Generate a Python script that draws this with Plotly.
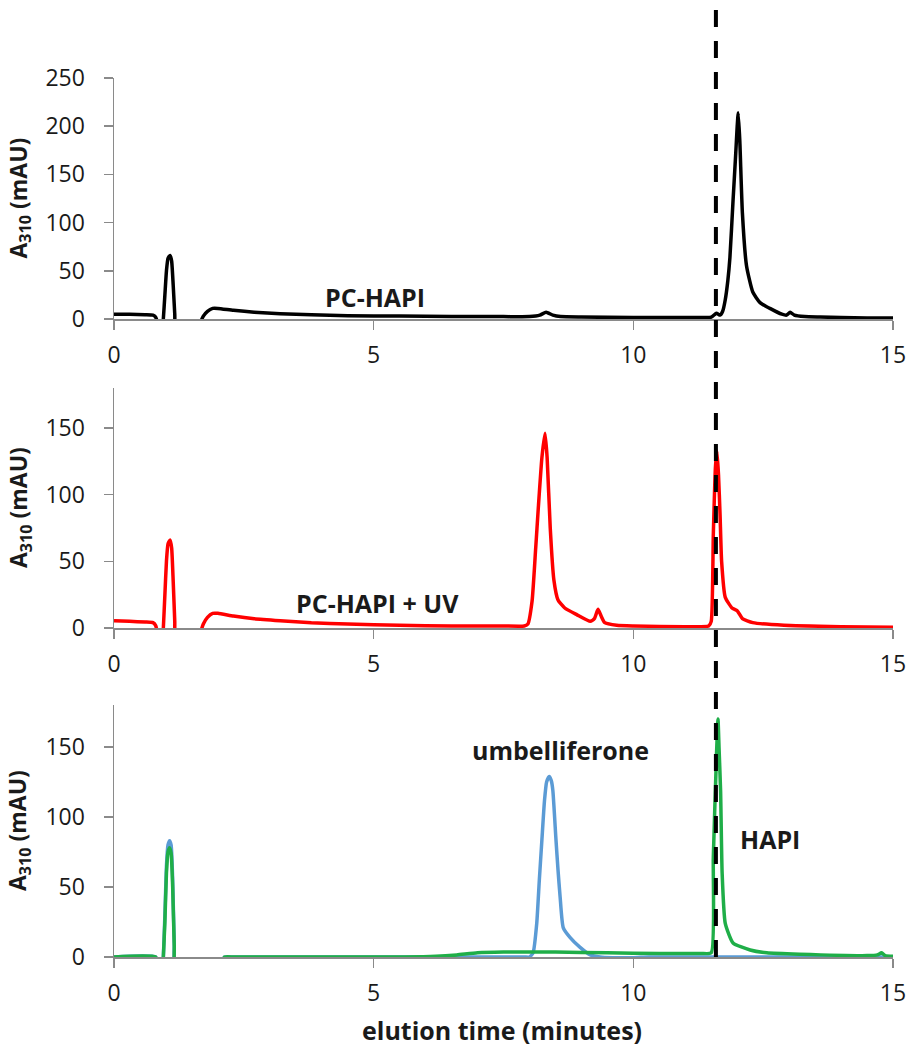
import plotly.graph_objects as go

# ---------------- data ----------------
t_pc = [0, 0.3, 0.6, 0.75, 0.8, 0.84, 0.87, 0.92, 0.95, 0.98, 1.01, 1.04, 1.08, 1.11, 1.14, 1.17, 1.2,
        1.6, 1.66, 1.72, 1.8, 1.9, 2.0, 2.3, 2.7, 3.2, 3.8, 4.5, 5.5, 6.5, 7.5, 8.0, 8.2, 8.32, 8.45,
        8.6, 9.0, 10.0, 11.0, 11.5, 11.6, 11.67, 11.72, 11.77, 11.82, 11.86, 11.92, 11.97, 12.0, 12.02,
        12.05, 12.1, 12.18, 12.3, 12.44, 12.63, 12.86, 12.95, 13.02, 13.1, 13.3, 13.6, 14.0, 14.5, 15.0]
a_pc = [5, 5, 4.5, 4, 2, -5, -20, -20, 0, 25, 50, 63, 66, 60, 35, 5, -20,
        -20, -5, 3, 8, 11, 11, 9, 7, 5.5, 4.5, 3.5, 3, 2.5, 2.5, 2.5, 4, 7, 4,
        2.5, 2, 1.5, 1.5, 2, 6, 4, 8, 20, 40, 64, 123, 170, 200, 214,
        185, 110, 55, 28, 17, 11, 5, 4, 7, 4, 2.5, 2, 1.5, 1, 1]

t_uv = [0, 0.3, 0.6, 0.75, 0.8, 0.84, 0.87, 0.92, 0.95, 0.98, 1.01, 1.04, 1.08, 1.11, 1.14, 1.17, 1.2,
        1.6, 1.66, 1.72, 1.8, 1.9, 2.0, 2.3, 2.7, 3.2, 3.8, 4.5, 5.5, 6.5, 7.0, 7.5, 7.9, 7.97, 8.05,
        8.12, 8.17, 8.24, 8.3, 8.34, 8.4, 8.47, 8.55, 8.68, 8.91, 9.17, 9.25, 9.32, 9.38, 9.45, 9.68,
        10.0, 11.0, 11.45, 11.5, 11.54, 11.58, 11.61, 11.64, 11.67, 11.7, 11.77, 11.9, 12.0, 12.1,
        12.3, 12.9, 14.0, 15.0]
a_uv = [5.5, 5, 4.5, 4, 2, -5, -20, -20, 0, 25, 50, 63, 66, 60, 35, 5, -20,
        -20, -5, 3, 8, 11, 11, 9, 7, 5.5, 4, 3, 2, 1.5, 1.5, 1.5, 1.5, 3, 20,
        60, 90, 128, 146, 128, 75, 36, 21, 15, 10, 5, 7, 14, 9, 4, 2,
        1.5, 1, 1.5, 5, 70, 120, 133, 115, 85, 50, 23, 15, 13, 7,
        4, 2, 1, 0.5]

t_umb = [0, 0.8, 0.84, 0.87, 0.92, 0.95, 0.98, 1.01, 1.04, 1.07, 1.1, 1.13, 1.16, 1.2, 2.0, 2.08,
         2.13, 2.3, 3.0, 4.0, 5.0, 6.0, 7.0, 7.9, 8.0, 8.07, 8.14, 8.19, 8.24, 8.29, 8.33, 8.38, 8.42,
         8.45, 8.51, 8.55, 8.59, 8.65, 8.78, 8.97, 9.17, 9.36, 9.6, 10.0, 10.3, 11.0, 12.0, 13.0,
         14.0, 15.0]
a_umb = [0, 0, -5, -20, -20, 0, 30, 65, 80, 83, 80, 55, 10, -20, -20, -4,
         0, 0, 0, 0, 0, 0, 0, 0, 0, 3, 24, 55, 84, 112, 125, 129, 126,
         119, 84, 62, 43, 21, 14, 7, 1.5, 0, -0.5, -0.5, 0, 0, 0, 0,
         0, 0]

t_hapi = [0, 0.8, 0.84, 0.87, 0.92, 0.95, 0.98, 1.01, 1.04, 1.07, 1.1, 1.13, 1.16, 1.2, 2.0, 2.08,
          2.13, 2.3, 3.0, 4.0, 5.0, 5.6, 6.2, 6.6, 7.0, 7.5, 8.5, 9.5, 10.5, 11.3, 11.5, 11.54, 11.6,
          11.63, 11.65, 11.68, 11.71, 11.77, 11.92, 12.25, 12.57, 13.2, 14.5, 14.7, 14.78, 14.85, 15.0]
a_hapi = [0, 0, -5, -20, -20, 0, 25, 60, 75, 78, 74, 50, 8, -20, -20, -4,
          0, 0, 0, 0, 0, 0, 0.5, 1.5, 3, 3.5, 3.5, 3, 2.5, 2.5, 3, 71, 143,
          170, 150, 119, 60, 24, 10, 5, 3, 2, 1, 1.5, 3, 1, 0.5]

x_ticks = [0, 5, 10, 15]
y_ticks_top = [0, 50, 100, 150, 200, 250]
y_ticks_low = [0, 50, 100, 150]
hapi_time = 11.59

# ---------------- figure geometry (body margin removed in post_script) ----------------
W, H = 909, 1050
ML = 114
MR = W - 893
PW = W - ML - MR

def py(y_ref):
    return 1 - y_ref / H

def px(x_ref):
    return (x_ref - ML) / PW

def dom(top_px, bot_px):
    return [py(bot_px), py(top_px)]

AX_COL = "#8a8a8a"
FONT = "Open Sans"
TICKFONT = dict(family=FONT, size=23, color="#1a1a1a")
spline = dict(shape="spline", smoothing=0.5)

fig = go.Figure()
fig.add_trace(go.Scatter(x=t_pc, y=a_pc, mode="lines", line=dict(color="#000000", width=3.5, **spline),
                         xaxis="x", yaxis="y", showlegend=False))
fig.add_trace(go.Scatter(x=t_uv, y=a_uv, mode="lines", line=dict(color="#ff0000", width=3.5, **spline),
                         xaxis="x2", yaxis="y2", showlegend=False))
fig.add_trace(go.Scatter(x=t_umb, y=a_umb, mode="lines", line=dict(color="#5b9bd5", width=3.5, **spline),
                         xaxis="x3", yaxis="y3", showlegend=False))
fig.add_trace(go.Scatter(x=t_hapi, y=a_hapi, mode="lines", line=dict(color="#1fae48", width=3.5, **spline),
                         xaxis="x3", yaxis="y3", showlegend=False))

xcommon = dict(range=[0, 15], tickvals=x_ticks, ticks="outside", ticklen=9, tickwidth=1.5,
               tickcolor=AX_COL, showline=True, linecolor=AX_COL, linewidth=1.5, showgrid=False,
               zeroline=False, tickfont=TICKFONT, ticklabelstandoff=6, fixedrange=True)
ycommon = dict(ticks="outside", ticklen=9, tickwidth=1.5, tickcolor=AX_COL, showline=True,
               linecolor=AX_COL, linewidth=1.5, showgrid=False, zeroline=False, tickfont=TICKFONT,
               ticklabelstandoff=14, fixedrange=True)

d1 = dom(78, 319)
d2 = dom(388, 628)
d3 = dom(705, 957)

fig.update_layout(
    width=W, height=H,
    margin=dict(l=ML, r=MR, t=0, b=0, autoexpand=False),
    paper_bgcolor="white", plot_bgcolor="white",
    xaxis=dict(anchor="y", domain=[0, 1], **xcommon),
    xaxis2=dict(anchor="y2", domain=[0, 1], **xcommon),
    xaxis3=dict(anchor="y3", domain=[0, 1], **xcommon),
    yaxis=dict(anchor="x", domain=d1, range=[0, 250], tickvals=y_ticks_top, **ycommon),
    yaxis2=dict(anchor="x2", domain=d2, range=[0, 180], tickvals=y_ticks_low, **ycommon),
    yaxis3=dict(anchor="x3", domain=d3, range=[0, 180], tickvals=y_ticks_low, **ycommon),
)

# dashed marker line at HAPI retention time
fig.add_shape(type="line", xref="x3", yref="paper", x0=hapi_time, x1=hapi_time,
              y0=d3[0], y1=1.0, line=dict(color="black", width=4, dash="17px,14px"), layer="above")

# y-axis titles
ytitle = "A<sub>310</sub> (mAU)"
for d in (d1, d2, d3):
    fig.add_annotation(text=ytitle, xref="paper", yref="paper", x=px(19), y=(d[0] + d[1]) / 2,
                       textangle=-90, showarrow=False, xanchor="center", yanchor="middle",
                       font=dict(family=FONT, size=23, color="#1a1a1a", weight="bold"))

# labels
lab_font = dict(family=FONT, size=25, color="#1a1a1a", weight="bold")
fig.add_annotation(text="PC-HAPI", xref="x", yref="y", x=5.03, y=23, showarrow=False, font=lab_font)
fig.add_annotation(text="PC-HAPI + UV", xref="x2", yref="y2", x=5.08, y=19, showarrow=False, font=lab_font)
fig.add_annotation(text="umbelliferone", xref="x3", yref="y3", x=8.59, y=148, showarrow=False, font=lab_font)
fig.add_annotation(text="HAPI", xref="x3", yref="y3", x=12.63, y=84, showarrow=False, font=lab_font)

# x-axis title
fig.add_annotation(text="elution time (minutes)", xref="paper", yref="paper", x=px(502),
                   y=py(1030), showarrow=False, xanchor="center", yanchor="middle", font=lab_font)

fig.write_html("out.html", config={"displayModeBar": False, "staticPlot": True},
               post_script="document.body.style.margin='0';document.body.style.overflow='hidden';")
